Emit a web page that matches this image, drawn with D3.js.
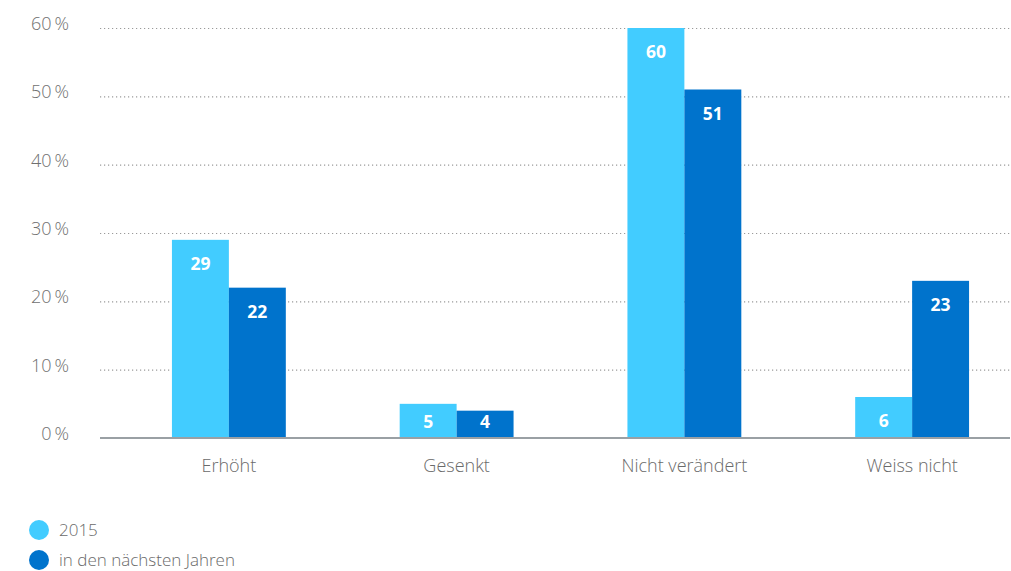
<!DOCTYPE html>
<html>
<head>
<meta charset="utf-8">
<script src="https://cdn.jsdelivr.net/npm/d3@7"></script>
<style>
  html, body { margin: 0; padding: 0; background: #fff; }
  svg { display: block; font-family: "Open Sans", "Noto Sans", sans-serif; }
</style>
</head>
<body>
<svg id="chart" width="1011" height="571"></svg>
<script>
// Umfragedaten: Anteil der Antworten in Prozent
const categories = ["Erhöht", "Gesenkt", "Nicht verändert", "Weiss nicht"];
const seriesNames = ["2015", "in den nächsten Jahren"];
const values2015 = [29, 5, 60, 6];
const valuesNext = [22, 4, 51, 23];
const yTicks = [0, 10, 20, 30, 40, 50, 60];
const colors = ["#42ccff", "#0073cc"];

const svg = d3.select("#chart");

const y = d3.scaleLinear().domain([0, 60]).range([438, 28]);
const x = d3.scaleBand().domain(categories).range([115, 1026])
  .paddingInner(0.5).paddingOuter(0.25);
const xSub = d3.scaleBand().domain(seriesNames).range([0, x.bandwidth()]);

// Gepunktete Gitterlinien und Prozentbeschriftung
const yAxis = d3.axisLeft(y).tickValues(yTicks).tickSize(0).tickPadding(0)
  .tickFormat(d => d + "\u2009%");
const gy = svg.append("g").attr("transform", "translate(100,0)").call(yAxis)
  .attr("font-family", null).attr("font-size", null);
gy.select(".domain").remove();
gy.selectAll(".tick text")
  .attr("x", -31).attr("dy", "0.08em")
  .attr("fill", "#707070").attr("font-size", 18).attr("font-weight", 300);
gy.selectAll(".tick")
  .filter(d => d > 0)
  .append("line")
  .attr("x1", 0).attr("x2", 910)
  .attr("stroke", "#9a9a9a").attr("stroke-width", 1.2)
  .attr("stroke-dasharray", "1.2,2.8");

// Balken
const rows = categories.map((c, i) => ({ cat: c, vals: [values2015[i], valuesNext[i]] }));
const groups = svg.append("g").selectAll("g").data(rows).join("g")
  .attr("transform", d => `translate(${x(d.cat)},0)`);

const bars = groups.selectAll("g").data(d => d.vals.map((v, j) => ({ v, s: seriesNames[j], j })))
  .join("g");
bars.append("rect")
  .attr("x", d => xSub(d.s))
  .attr("width", xSub.bandwidth())
  .attr("y", d => y(d.v))
  .attr("height", d => y(0) - y(d.v))
  .attr("fill", d => colors[d.j]);
bars.append("text")
  .attr("x", d => xSub(d.s) + xSub.bandwidth() / 2)
  .attr("y", d => Math.min(y(d.v) + 24, y(0) - 16))
  .attr("dy", "0.36em")
  .attr("text-anchor", "middle")
  .attr("fill", "#fff").attr("font-weight", 700).attr("font-size", 17.5)
  .text(d => d.v);

// x-Achse
const xAxis = d3.axisBottom(x).tickSize(0).tickPadding(0);
const gx = svg.append("g").attr("transform", "translate(0,438)").call(xAxis)
  .attr("font-family", null).attr("font-size", null);
gx.select(".domain").remove();
gx.append("line").attr("x1", 100).attr("x2", 1010)
  .attr("stroke", "#9aa0a4").attr("stroke-width", 2);
gx.selectAll(".tick text")
  .attr("y", 28).attr("dy", "0.36em")
  .attr("fill", "#6a6a6a").attr("font-size", 18).attr("font-weight", 300);

// Legende
const legend = svg.append("g").selectAll("g").data(seriesNames).join("g")
  .attr("transform", (d, i) => `translate(39,${530 + i * 30})`);
legend.append("circle").attr("r", 10).attr("fill", (d, i) => colors[i]);
legend.append("text").attr("x", 20).attr("dy", "0.36em")
  .attr("fill", "#6a6a6a").attr("font-size", 17).attr("font-weight", 300).text(d => d);
</script>
</body>
</html>
